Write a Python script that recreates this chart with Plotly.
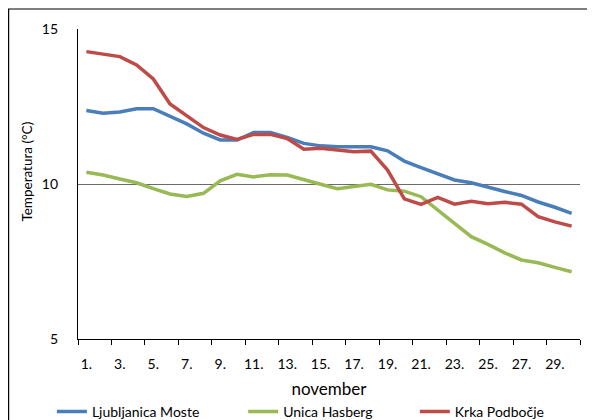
import plotly.graph_objects as go

# days of November
days = [1, 2, 3, 4, 5, 6, 7, 8, 9, 10, 11, 12, 13, 14, 15,
        16, 17, 18, 19, 20, 21, 22, 23, 24, 25, 26, 27, 28, 29, 30]
tick_days = [1, 3, 5, 7, 9, 11, 13, 15, 17, 19, 21, 23, 25, 27, 29]
tick_text = ["1.", "3.", "5.", "7.", "9.", "11.", "13.", "15.",
             "17.", "19.", "21.", "23.", "25.", "27.", "29."]

ljubljanica = [12.37, 12.28, 12.32, 12.43, 12.43, 12.19, 11.94, 11.64, 11.42, 11.42,
               11.66, 11.66, 11.50, 11.31, 11.23, 11.20, 11.20, 11.20, 11.07, 10.74,
               10.53, 10.34, 10.13, 10.04, 9.89, 9.76, 9.63, 9.42, 9.25, 9.05]
unica = [10.38, 10.29, 10.16, 10.04, 9.85, 9.68, 9.60, 9.70, 10.10, 10.31,
         10.23, 10.30, 10.29, 10.13, 9.99, 9.85, 9.91, 9.99, 9.81, 9.77,
         9.59, 9.16, 8.73, 8.30, 8.05, 7.78, 7.55, 7.46, 7.31, 7.17]
krka = [14.27, 14.19, 14.11, 13.84, 13.39, 12.58, 12.20, 11.82, 11.58, 11.44,
        11.60, 11.60, 11.47, 11.12, 11.15, 11.10, 11.04, 11.06, 10.45, 9.52,
        9.34, 9.57, 9.35, 9.44, 9.36, 9.41, 9.35, 8.95, 8.78, 8.64]

series = [
    ("Ljubljanica Moste", ljubljanica, "#4A7EBB", "legend"),
    ("Unica Hasberg", unica, "#98B954", "legend2"),
    ("Krka Podbočje", krka, "#BE4B48", "legend3"),
]

fig = go.Figure()
for name, vals, color, leg in series:
    fig.add_trace(go.Scatter(x=days, y=vals, name=name, mode="lines", legend=leg,
                             line=dict(color=color, width=3.5)))

# boundary ticks every second day, like the Excel category axis
boundaries = [d - 0.5 for d in days[::2]] + [days[-1] + 0.5]

# one legend per entry so the entries can sit where Excel put them
leg_style = dict(orientation="h", xanchor="left", y=-0.235, yanchor="middle",
                 font=dict(size=14), itemwidth=30, bgcolor="rgba(0,0,0,0)")

# the page body adds an 8px margin, so the figure is a bit smaller
fig.update_layout(
    width=587, height=412,
    margin=dict(l=70, r=15, t=21, b=81, autoexpand=False),
    paper_bgcolor="white", plot_bgcolor="white",
    font=dict(family="Lato, 'Liberation Sans', sans-serif", size=14, color="black"),
    showlegend=True,
    legend=dict(x=-0.052, **leg_style),
    legend2=dict(x=0.329, **leg_style),
    legend3=dict(x=0.671, **leg_style),
    shapes=[dict(type="rect", xref="paper", yref="paper",
                 x0=-0.1382, x1=1.2, y0=-0.6, y1=1.0645,
                 line=dict(color="black", width=1.2), layer="below")],
    annotations=[dict(text="Temperatura (°C)", textangle=-90, showarrow=False,
                      xref="paper", yref="paper", x=-0.1016, y=0.54,
                      xanchor="center", yanchor="middle", font=dict(size=13.5))],
)
fig.update_xaxes(
    range=[0.5, 30.5], tickmode="array", tickvals=tick_days, ticktext=tick_text,
    ticks="", showgrid=False, zeroline=False, automargin=False,
    showline=True, linecolor="black", linewidth=1.2,
    minor=dict(tickmode="array", tickvals=boundaries, ticks="outside",
               ticklen=5, tickcolor="black", tickwidth=1, showgrid=False),
    ticklabelstandoff=12,
    title=dict(text="november", standoff=12),
)
fig.update_yaxes(
    range=[5, 15], tickvals=[5, 10, 15], ticks="", zeroline=False, automargin=False,
    showgrid=True, gridcolor="#6b6b6b", gridwidth=1.4,
    showline=True, linecolor="black", linewidth=1.2,
    ticklabelstandoff=16,
)

fig.write_html("out.html")
